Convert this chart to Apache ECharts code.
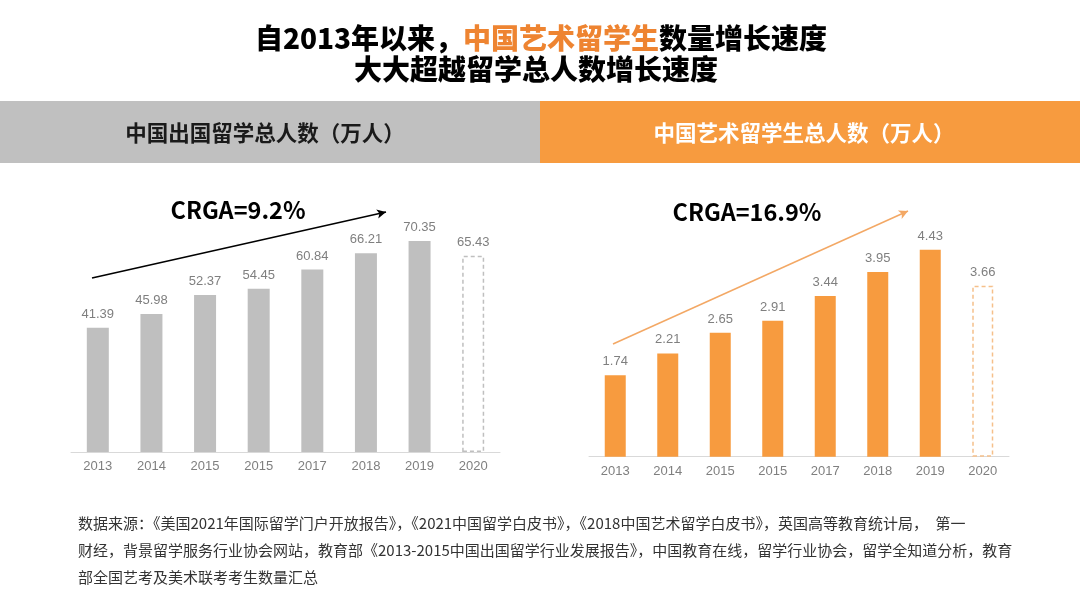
<!DOCTYPE html>
<html><head><meta charset="utf-8">
<script src="https://cdn.jsdelivr.net/npm/echarts@6/dist/echarts.min.js"></script>
<style>html,body{margin:0;padding:0;background:#fff}#c{width:1080px;height:608px}</style>
</head><body><div id="c"></div>
<script>
const years = ['2013','2014','2015','2015','2017','2018','2019','2020'];
const totalStudents = [41.39, 45.98, 52.37, 54.45, 60.84, 66.21, 70.35, 65.43];
const artStudents = [1.74, 2.21, 2.65, 2.91, 3.44, 3.95, 4.43, 3.66];
const titleLine1a = '自2013年以来，';
const titleLine1b = '中国艺术留学生';
const titleLine1c = '数量增长速度';
const titleLine2 = '大大超越留学总人数增长速度';
const leftHeader = '中国出国留学总人数（万人）';
const rightHeader = '中国艺术留学生总人数（万人）';
const leftCagr = 'CRGA=9.2%';
const rightCagr = 'CRGA=16.9%';
const footnote = [
  '数据来源：《美国2021年国际留学门户开放报告》，《2021中国留学白皮书》，《2018中国艺术留学白皮书》，英国高等教育统计局，　第一',
  '财经，背景留学服务行业协会网站，教育部《2013-2015中国出国留学行业发展报告》，中国教育在线，留学行业协会，留学全知道分析，教育',
  '部全国艺考及美术联考考生数量汇总'
];

const CJK = "'Noto Sans CJK SC','Noto Sans',sans-serif";
const GRAY = '#bfbfbf', ORANGE = '#f79b3f';

function buildData(vals, color, dashColor) {
  return vals.map((v, i) => i === vals.length - 1
    ? { value: v, itemStyle: { color: 'rgba(0,0,0,0)', borderColor: dashColor, borderType: [4, 3], borderWidth: 1.5 } }
    : { value: v, itemStyle: { color: color } });
}

const labelStyle = { show: true, position: 'top', distance: 7, color: '#7f7f7f', fontSize: 13, fontFamily: "'Liberation Sans',sans-serif" };
const xAxisCommon = {
  type: 'category',
  axisLine: { lineStyle: { color: '#d9d9d9', width: 1 } },
  axisTick: { show: false },
  axisLabel: { color: '#7f7f7f', fontSize: 13, margin: 8, fontFamily: "'Liberation Sans',sans-serif" }
};
const yAxisCommon = { type: 'value', show: false, splitLine: { show: false } };

function arrowLine(x1, y1, x2, y2, color) {
  return {
    silent: true, animation: false,
    lineStyle: { color: color, width: 1.5, type: 'solid' },
    label: { show: false },
    data: [[
      { x: x1, y: y1, symbol: 'none', symbolSize: 0 },
      { x: x2, y: y2, symbol: 'arrow', symbolSize: [7, 9] }
    ]]
  };
}

const chart = echarts.init(document.getElementById('c'));
chart.setOption({
  backgroundColor: '#ffffff',
  animation: false,
  grid: [
    { left: 71, width: 429, top: 212, height: 240 },
    { left: 589, width: 420, top: 223, height: 233.7 }
  ],
  xAxis: [
    Object.assign({ gridIndex: 0, data: years }, xAxisCommon),
    Object.assign({ gridIndex: 1, data: years }, xAxisCommon)
  ],
  yAxis: [
    Object.assign({ gridIndex: 0, min: 0, max: 80 }, yAxisCommon),
    Object.assign({ gridIndex: 1, min: 0, max: 5 }, yAxisCommon)
  ],
  series: [
    {
      type: 'bar', xAxisIndex: 0, yAxisIndex: 0, barWidth: 22,
      data: buildData(totalStudents, GRAY, '#bfbfbf'),
      label: labelStyle,
      markLine: arrowLine(92, 278, 386, 212, '#000000')
    },
    {
      type: 'bar', xAxisIndex: 1, yAxisIndex: 1, barWidth: 21,
      data: buildData(artStudents, ORANGE, '#f5c08a'),
      label: labelStyle,
      markLine: arrowLine(613, 344, 908, 211, '#f3a865')
    }
  ],
  graphic: [
    { type: 'rect', shape: { x: 0, y: 101, width: 540, height: 62 }, style: { fill: '#c0c0c0' }, z: 0 },
    { type: 'rect', shape: { x: 540, y: 101, width: 540, height: 62 }, style: { fill: ORANGE }, z: 0 },
    { type: 'text', x: 265, y: 133, style: { text: leftHeader, fill: '#1a1a1a', font: "bold 21.5px " + CJK, textAlign: 'center', textVerticalAlign: 'middle' }, z: 5 },
    { type: 'text', x: 804, y: 133, style: { text: rightHeader, fill: '#ffffff', font: "bold 21.5px " + CJK, textAlign: 'center', textVerticalAlign: 'middle' }, z: 5 },
    {
      type: 'text', x: 541, y: 38, z: 5,
      style: {
        text: '{a|' + titleLine1a + '}{b|' + titleLine1b + '}{a|' + titleLine1c + '}',
        textAlign: 'center', textVerticalAlign: 'middle',
        rich: {
          a: { fill: '#000000', fontSize: 28, fontWeight: 900, fontFamily: CJK },
          b: { fill: '#ee8431', fontSize: 28, fontWeight: 900, fontFamily: CJK }
        }
      }
    },
    { type: 'text', x: 536, y: 69, z: 5, style: { text: titleLine2, fill: '#000000', font: "900 28px " + CJK, textAlign: 'center', textVerticalAlign: 'middle' } },
    { type: 'text', x: 238, y: 210, z: 5, style: { text: leftCagr, fill: '#000000', font: "bold 23.5px " + CJK, textAlign: 'center', textVerticalAlign: 'middle' } },
    { type: 'text', x: 747, y: 212, z: 5, style: { text: rightCagr, fill: '#000000', font: "bold 23.5px " + CJK, textAlign: 'center', textVerticalAlign: 'middle' } },
    { type: 'text', x: 78, y: 510, z: 5, style: { text: footnote.join('\n'), fill: '#333333', font: "15px " + CJK, lineHeight: 27, textAlign: 'left', textVerticalAlign: 'top' } }
  ]
});
</script>
</body></html>
